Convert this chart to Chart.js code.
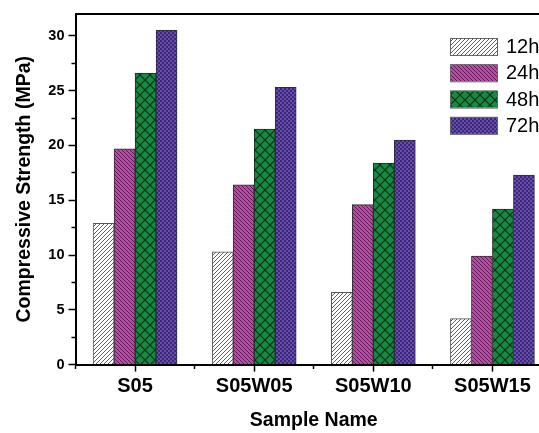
<!DOCTYPE html>
<html>
<head>
<meta charset="utf-8">
<script src="https://cdn.jsdelivr.net/npm/chart.js@4/dist/chart.umd.min.js"></script>
<style>
  html, body { margin: 0; padding: 0; background: #fff; overflow: hidden; width: 539px; height: 433px; }
  #wrap { position: relative; width: 560px; height: 433px; }
</style>
</head>
<body>
<div id="wrap"><canvas id="c"></canvas></div>
<script>
const categories = ['S05', 'S05W05', 'S05W10', 'S05W15'];
const seriesLabels = ['12h', '24h', '48h', '72h'];
const s12h = [12.9, 10.3, 6.6, 4.2];
const s24h = [19.7, 16.4, 14.6, 9.9];
const s48h = [26.6, 21.5, 18.4, 14.2];
const s72h = [30.5, 25.3, 20.5, 17.3];
const yMin = 0, yMax = 32, yMajorStep = 5, yMinorStep = 2.5;
const xTitle = 'Sample Name';
const yTitle = 'Compressive Strength (MPa)';

const FONT = '"Liberation Sans", Arial, sans-serif';

function makePattern(kind) {
  const c = document.createElement('canvas');
  const g = c.getContext('2d');
  if (kind === 'hatchWhite') {
    c.width = 4; c.height = 4;
    g.fillStyle = '#ffffff'; g.fillRect(0, 0, 4, 4);
    g.strokeStyle = '#5e5e5e'; g.lineWidth = 1;
    g.beginPath();
    g.moveTo(0, 4); g.lineTo(4, 0);
    g.moveTo(-1, 1); g.lineTo(1, -1);
    g.moveTo(3, 5); g.lineTo(5, 3);
    g.stroke();
  } else if (kind === 'hatchMagenta') {
    c.width = 4; c.height = 4;
    g.fillStyle = '#b94aa6'; g.fillRect(0, 0, 4, 4);
    g.strokeStyle = '#5a1c52'; g.lineWidth = 1;
    g.beginPath();
    g.moveTo(0, 0); g.lineTo(4, 4);
    g.moveTo(-1, 3); g.lineTo(1, 5);
    g.moveTo(3, -1); g.lineTo(5, 1);
    g.stroke();
  } else if (kind === 'diamondGreen') {
    c.width = 10; c.height = 10;
    g.fillStyle = '#168a42'; g.fillRect(0, 0, 10, 10);
    g.strokeStyle = '#0a3218'; g.lineWidth = 1.1;
    g.beginPath();
    g.moveTo(0, 5); g.lineTo(5, 0); g.lineTo(10, 5); g.lineTo(5, 10); g.closePath();
    g.stroke();
  } else if (kind === 'checkPurple') {
    c.width = 4; c.height = 4;
    g.fillStyle = '#6a4cac'; g.fillRect(0, 0, 4, 4);
    g.fillStyle = '#3a2976';
    g.fillRect(0, 0, 2, 2); g.fillRect(2, 2, 2, 2);
  }
  return document.createElement('canvas').getContext('2d').createPattern(c, 'repeat');
}

const patterns = [
  makePattern('hatchWhite'),
  makePattern('hatchMagenta'),
  makePattern('diamondGreen'),
  makePattern('checkPurple')
];
const borderColors = ['#555555', '#3a2a38', '#1e2e22', '#2e2a44'];
const seriesValues = [s12h, s24h, s48h, s72h];

const insideLegend = {
  id: 'insideLegend',
  afterDraw(chart, args, opts) {
    const ctx = chart.ctx;
    ctx.save();
    chart.data.datasets.forEach((ds, i) => {
      const cy = opts.y0 + i * opts.dy;
      ctx.fillStyle = ds.backgroundColor;
      ctx.fillRect(opts.x, cy - opts.h / 2, opts.w, opts.h);
      ctx.strokeStyle = '#666';
      ctx.lineWidth = 1;
      ctx.strokeRect(opts.x + 0.5, cy - opts.h / 2 + 0.5, opts.w, opts.h);
      ctx.fillStyle = '#000';
      ctx.font = '20px ' + FONT;
      ctx.textBaseline = 'middle';
      ctx.textAlign = 'left';
      ctx.fillText(ds.label, opts.x + opts.w + 9, cy + 1);
    });
    ctx.restore();
  }
};

const isMajorX = v => Number.isInteger(v);
const isMajorY = v => Math.abs(v % yMajorStep) < 1e-9;

new Chart(document.getElementById('c'), {
  type: 'bar',
  data: {
    labels: categories,
    datasets: seriesLabels.map((lab, i) => ({
      label: lab,
      data: seriesValues[i],
      backgroundColor: patterns[i],
      borderColor: borderColors[i],
      borderWidth: 1,
      barThickness: 21,
      xAxisID: 'x',
      yAxisID: 'y'
    }))
  },
  options: {
    responsive: true,
    maintainAspectRatio: false,
    animation: false,
    devicePixelRatio: 1,
    layout: { padding: { top: 14, right: 8, left: 0, bottom: 0 } },
    plugins: {
      legend: { display: false },
      tooltip: { enabled: false },
      insideLegend: { x: 450, y0: 46.5, dy: 26.3, w: 47, h: 17 }
    },
    scales: {
      x: {
        type: 'category',
        position: 'bottom',
        offset: true,
        afterBuildTicks: s => {
          const t = [];
          for (let v = -0.5; v <= categories.length - 0.5 + 1e-9; v += 0.5) t.push({ value: v });
          s.ticks = t;
        },
        afterFit: s => { s.height = 68.4; },
        border: { display: true, color: '#000', width: 2 },
        grid: {
          offset: false,
          drawOnChartArea: false,
          drawTicks: true,
          tickLength: 7,
          tickWidth: 1.5,
          tickColor: '#000',
          tickBorderDash: ctx => (ctx.tick && isMajorX(ctx.tick.value)) ? [] : [3, 20]
        },
        ticks: {
          autoSkip: false,
          maxRotation: 0,
          padding: 3,
          color: '#000',
          font: { family: FONT, size: 20, weight: 'bold' },
          callback: v => isMajorX(v) ? categories[v] : ''
        },
        title: {
          display: true,
          text: xTitle,
          color: '#000',
          font: { family: FONT, size: 19.5, weight: 'bold' },
          padding: { top: 0, bottom: 1 }
        }
      },
      xTop: {
        type: 'category',
        position: 'top',
        display: true,
        border: { display: true, color: '#000', width: 2 },
        grid: { drawOnChartArea: false, drawTicks: false },
        ticks: { display: false }
      },
      y: {
        type: 'linear',
        position: 'left',
        min: yMin,
        max: yMax,
        afterFit: s => { s.width = 75.5; },
        border: { display: true, color: '#000', width: 2 },
        grid: {
          drawOnChartArea: false,
          drawTicks: true,
          tickLength: 7,
          tickWidth: 1.5,
          tickColor: '#000',
          tickBorderDash: ctx => (ctx.tick && isMajorY(ctx.tick.value)) ? [] : [0, 3, 4, 0]
        },
        ticks: {
          stepSize: yMinorStep,
          includeBounds: false,
          autoSkip: false,
          padding: 4,
          color: '#000',
          font: { family: FONT, size: 14.5, weight: 'bold' },
          callback: v => isMajorY(v) ? String(v) : ''
        },
        title: {
          display: true,
          text: yTitle,
          color: '#000',
          font: { family: FONT, size: 19.5, weight: 'bold' },
          padding: { top: 13, bottom: 0 }
        }
      }
    }
  },
  plugins: [insideLegend]
});
</script>
</body>
</html>
